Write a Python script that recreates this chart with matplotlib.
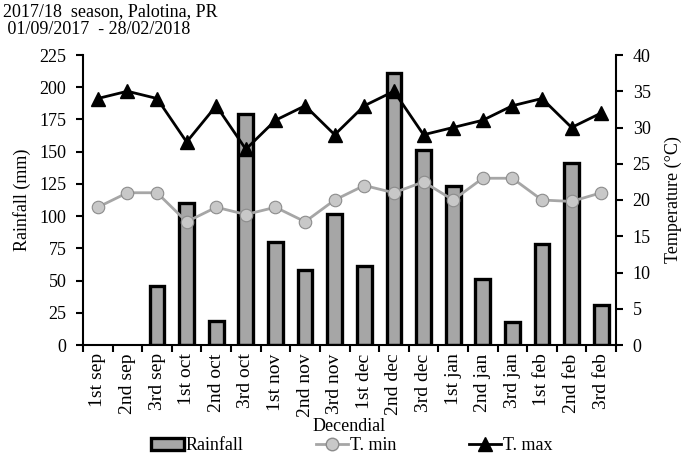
import numpy as np
import matplotlib
matplotlib.use("Agg")
import matplotlib.pyplot as plt
from matplotlib.lines import Line2D
from matplotlib.patches import Patch

plt.rcParams["font.family"] = ["Liberation Serif", "DejaVu Serif"]
plt.rcParams["font.size"] = 13

# ── Data ──
decendials = ["1st sep", "2nd sep", "3rd sep", "1st oct", "2nd oct", "3rd oct",
              "1st nov", "2nd nov", "3rd nov", "1st dec", "2nd dec", "3rd dec",
              "1st jan", "2nd jan", "3rd jan", "1st feb", "2nd feb", "3rd feb"]
rainfall = [0, 0, 46, 110, 19, 179, 80, 58, 102, 61, 211, 151, 123, 51, 18, 78, 141, 31]
t_min = [19, 21, 21, 17, 19, 18, 19, 17, 20, 22, 21, 22.5, 20, 23, 23, 20, 19.8, 21]
t_max = [34, 35, 34, 28, 33, 27, 31, 33, 29, 33, 35, 29, 30, 31, 33, 34, 30, 32]

x = np.arange(len(decendials))

fig = plt.figure(figsize=(6.85, 4.53), dpi=100)
ax = fig.add_axes([83 / 685, 1 - 345 / 453, (616 - 83) / 685, (345 - 55) / 453])
ax2 = ax.twinx()

# zero-rain decendials get no outline (nothing is drawn there in the original)
edge_w = [2.4 if r > 0 else 0 for r in rainfall]
ax.bar(x, rainfall, width=0.5, color="#a6a6a6", edgecolor="black", linewidth=edge_w, zorder=2)

ax2.plot(x, t_min, "-o", color="#a6a6a6", linewidth=2, markersize=9,
         markerfacecolor="#c8c8c8", markeredgecolor="#8c8c8c", markeredgewidth=0.8, zorder=3)
ax2.plot(x, t_max, "-^", color="black", linewidth=2, markersize=10, zorder=4)

ax.set_xlim(-0.5, len(x) - 0.5)
ax.set_ylim(0, 225)
ax.set_yticks(np.arange(0, 226, 25))
ax2.set_ylim(0, 40)
ax2.set_yticks(np.arange(0, 41, 5))

ax.set_xticks(x)
ax.set_xticklabels(decendials, rotation=90, fontsize=14)
ax.set_xticks(np.arange(-0.5, len(x), 1), minor=True)
ax.tick_params(axis="x", which="major", length=0, pad=6)
ax.tick_params(axis="x", which="minor", length=5, width=1.5, direction="out")
ax.tick_params(axis="y", length=5, width=1.5, direction="out", pad=7)
ax2.tick_params(axis="y", length=5, width=1.5, direction="out", pad=7)

for a in (ax, ax2):
    a.spines["top"].set_visible(False)
    for s in ("left", "right", "bottom"):
        a.spines[s].set_linewidth(1.5)
ax.spines["right"].set_visible(False)
ax2.spines["left"].set_visible(False)
ax2.spines["bottom"].set_visible(False)

ax.set_ylabel("Rainfall (mm)", labelpad=6)
ax2.set_ylabel("Temperature (°C)", labelpad=10)
ax.set_xlabel("Decendial", labelpad=1)

fig.text(3 / 685, 1 - 3 / 453, "2017/18  season, Palotina, PR\n 01/09/2017  - 28/02/2018",
         ha="left", va="top", fontsize=13, linespacing=1.05)

handles = [
    Patch(facecolor="#a6a6a6", edgecolor="black", linewidth=2.4),
    Line2D([], [], color="#a6a6a6", linewidth=2, marker="o", markersize=9,
           markerfacecolor="#c8c8c8", markeredgecolor="#8c8c8c"),
    Line2D([], [], color="black", linewidth=2, marker="^", markersize=10),
]
fig.legend(handles, ["Rainfall", "T. min", "T. max"], loc="center",
           bbox_to_anchor=(352 / 685, 1 - 446 / 453), ncol=3, frameon=False,
           handlelength=1.8, handleheight=0.6, handletextpad=0.1,
           columnspacing=4.0, fontsize=13, borderpad=0.1)

fig.savefig("out.png", dpi=100)
